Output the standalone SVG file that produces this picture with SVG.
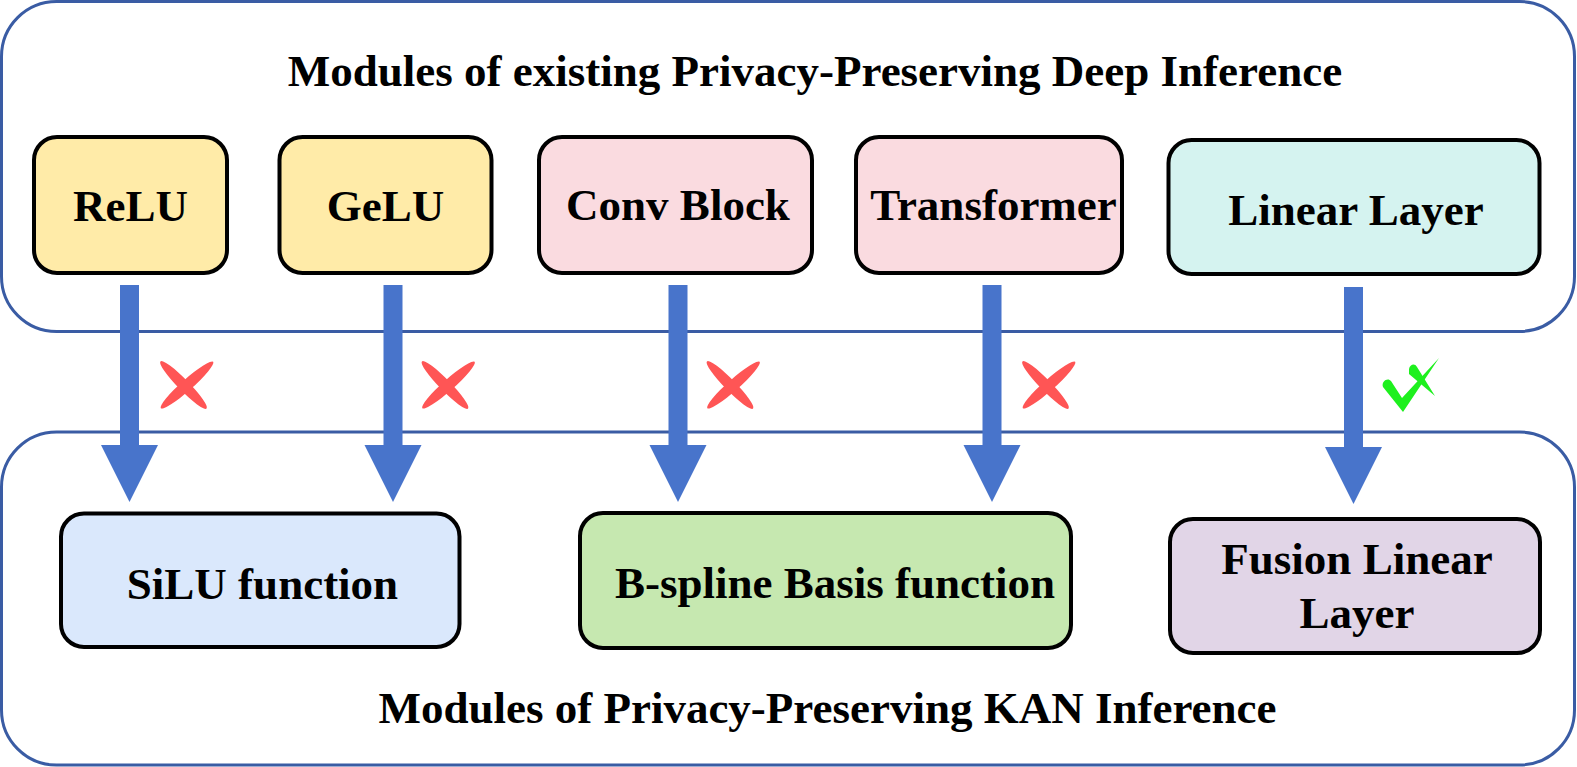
<svg xmlns="http://www.w3.org/2000/svg" width="1577" height="767" viewBox="0 0 1577 767">
<style>
.frame{fill:#ffffff;stroke:#3A5CA4;stroke-width:3}
.node{stroke:#000000;stroke-width:4}
.t{font-family:"Liberation Serif","Times New Roman",serif;font-weight:bold;font-size:45px;fill:#000000;text-anchor:middle}
.arrow{fill:#4874CB}
.xm{fill:#FF5555}
.ck{fill:#1EF01E}
</style>
<defs>
<g id="xmark">
<ellipse class="xm" cx="0" cy="0" rx="33" ry="5.5" transform="translate(-2,0) rotate(45.6)"/>
<ellipse class="xm" cx="0" cy="0" rx="35" ry="5.5" transform="translate(1.5,0) rotate(-41.6)"/>
</g>
</defs>
<g id="frame-top"><rect class="frame" x="1.5" y="1.5" width="1573" height="330" rx="55"/>
<text class="t" x="815" y="86">Modules of existing Privacy-Preserving Deep Inference</text></g>
<g id="frame-bottom"><rect class="frame" x="1.5" y="432" width="1573" height="333" rx="55"/>
<text class="t" x="827.5" y="723">Modules of Privacy-Preserving KAN Inference</text></g>
<g id="relu"><rect class="node" x="34" y="137" width="193" height="136" rx="23" fill="#FFEBA8"/><text class="t" x="130.5" y="221">ReLU</text></g>
<g id="gelu"><rect class="node" x="279.5" y="137" width="212" height="136" rx="23" fill="#FFEBA8"/><text class="t" x="385.5" y="221">GeLU</text></g>
<g id="conv"><rect class="node" x="539" y="137" width="273" height="136" rx="23" fill="#FADBE0"/><text class="t" x="678" y="220">Conv Block</text></g>
<g id="transformer"><rect class="node" x="856" y="137" width="266" height="136" rx="23" fill="#FADBE0"/><text class="t" x="993.5" y="220">Transformer</text></g>
<g id="linear"><rect class="node" x="1168.5" y="140" width="371" height="134" rx="23" fill="#D5F3F0"/><text class="t" x="1356" y="225">Linear Layer</text></g>
<g id="silu"><rect class="node" x="61" y="513.5" width="398.5" height="133.5" rx="23" fill="#DAE8FC"/><text class="t" x="262.5" y="599">SiLU function</text></g>
<g id="bspline"><rect class="node" x="580" y="513" width="491" height="135" rx="23" fill="#C6E8B0"/><text class="t" x="835" y="598">B-spline Basis function</text></g>
<g id="fusion"><rect class="node" x="1170" y="519" width="370" height="134" rx="23" fill="#E1D5E7"/><text class="t" x="1357" y="574">Fusion Linear</text><text class="t" x="1357" y="628">Layer</text></g>
<g id="connectors">
<polygon class="arrow" points="120,285 139,285 139,445 158,445 129.5,502 101,445 120,445"/>
<polygon class="arrow" points="383.5,285 402.5,285 402.5,445 421.5,445 393,502 364.5,445 383.5,445"/>
<polygon class="arrow" points="668.5,285 687.5,285 687.5,445 706.5,445 678,502 649.5,445 668.5,445"/>
<polygon class="arrow" points="982.5,285 1001.5,285 1001.5,445 1020.5,445 992,502 963.5,445 982.5,445"/>
<polygon class="arrow" points="1344,287 1363,287 1363,447 1382,447 1353.5,504 1325,447 1344,447"/>
</g>
<g id="marks">
<use href="#xmark" x="185.5" y="385"/>
<use href="#xmark" x="447" y="385"/>
<use href="#xmark" x="732" y="385"/>
<use href="#xmark" x="1047.5" y="385"/>
<path class="ck" d="M1383,387 C1381,381 1388,377 1391,381 L1402,398 L1439,358 L1403,412 Z"/>
<path class="ck" d="M1409,369 C1410,364 1415,363 1417,367 L1435,396 L1409,374 Z"/>
</g>
</svg>
